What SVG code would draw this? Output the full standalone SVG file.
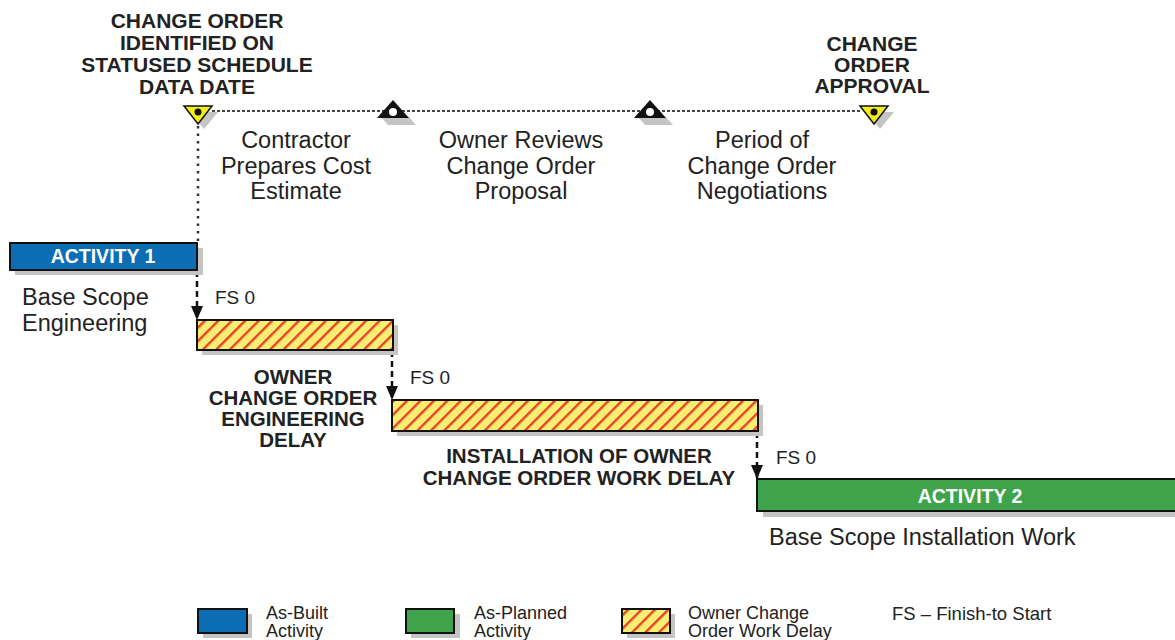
<svg xmlns="http://www.w3.org/2000/svg" width="1175" height="640" viewBox="0 0 1175 640">
<defs>
<pattern id="hatch" patternUnits="userSpaceOnUse" width="9.5" height="9.5" patternTransform="rotate(45)">
<rect width="9.5" height="9.5" fill="#f8ef72"/>
<rect x="0" y="0" width="2.4" height="9.5" fill="#e4432a"/>
</pattern>
<marker id="arr" markerWidth="14" markerHeight="12" refX="14" refY="6" orient="auto" markerUnits="userSpaceOnUse" viewBox="0 0 14 12">
<path d="M0,0 L14,6 L0,12 Z" fill="#111"/>
</marker>
<style>
text{font-family:"Liberation Sans",Arial,sans-serif;fill:#222}
.b{font-weight:bold}
.hd{font-size:21px;font-weight:bold;text-anchor:middle}
.mid{font-size:23.5px;text-anchor:middle}
.wt{fill:#fff;font-weight:bold;font-size:19.5px;text-anchor:middle}
.fs{font-size:19px}
.lg{font-size:18px}
.shadow{fill:#c4c4c4}
.bar{stroke:#111;stroke-width:2}
.dep{stroke:#111;stroke-width:2.5;stroke-dasharray:6 4;fill:none}
</style>
</defs>

<g id="labels-top">
<text class="hd" x="197" y="28">CHANGE ORDER</text>
<text class="hd" x="197" y="50">IDENTIFIED ON</text>
<text class="hd" x="197" y="72">STATUSED SCHEDULE</text>
<text class="hd" x="197" y="94">DATA DATE</text>
<text class="hd" x="872" y="51">CHANGE</text>
<text class="hd" x="872" y="72">ORDER</text>
<text class="hd" x="872" y="93">APPROVAL</text>
</g>

<g id="connectors">
<line x1="212" y1="111" x2="861" y2="111" stroke="#444" stroke-width="2" stroke-dasharray="3 2"/>
<line x1="198" y1="126" x2="198" y2="243" stroke="#333" stroke-width="2.5" stroke-dasharray="2.5 5"/>
<line class="dep" x1="197" y1="271" x2="197" y2="320" marker-end="url(#arr)"/>
<line class="dep" x1="392" y1="351" x2="392" y2="400" marker-end="url(#arr)"/>
<line class="dep" x1="757" y1="432" x2="757" y2="479" marker-end="url(#arr)"/>
</g>

<g id="milestone-co-identified">
<polygon points="190,112 218,112 204,129" class="shadow"/>
<polygon points="184,106 212,106 198,124" fill="#f3ee1a" stroke="#111" stroke-width="1.5"/>
<circle cx="198" cy="112" r="3.5" fill="#111"/>
</g>
<g id="milestone-2">
<polygon points="381,117 409,117 416,125 388,125" class="shadow"/>
<polygon points="377,118 393,100 409,118" fill="#111"/>
<circle cx="393" cy="112" r="4" fill="#fff"/>
</g>
<g id="milestone-3">
<polygon points="638,117 666,117 673,125 645,125" class="shadow"/>
<polygon points="634,118 650,100 666,118" fill="#111"/>
<circle cx="650" cy="112" r="4" fill="#fff"/>
</g>
<g id="milestone-co-approval">
<polygon points="866,112 894,112 880,129" class="shadow"/>
<polygon points="860,106 888,106 874,124" fill="#f3ee1a" stroke="#111" stroke-width="1.5"/>
<circle cx="874" cy="112" r="3.5" fill="#111"/>
</g>

<g id="period-labels">
<text class="mid" x="296" y="148">Contractor</text>
<text class="mid" x="296" y="174">Prepares Cost</text>
<text class="mid" x="296" y="199">Estimate</text>
<text class="mid" x="521" y="148">Owner Reviews</text>
<text class="mid" x="521" y="174">Change Order</text>
<text class="mid" x="521" y="199">Proposal</text>
<text class="mid" x="762" y="148">Period of</text>
<text class="mid" x="762" y="174">Change Order</text>
<text class="mid" x="762" y="199">Negotiations</text>
</g>

<g id="activity-1">
<rect x="15" y="248" width="188" height="27" class="shadow"/>
<rect x="10" y="243" width="187" height="27" fill="#0b6db4" class="bar"/>
<text class="wt" x="103" y="263">ACTIVITY 1</text>
<text x="22" y="305" style="font-size:23.5px">Base Scope</text>
<text x="22" y="331" style="font-size:23.5px">Engineering</text>
</g>
<text class="fs" x="215" y="304">FS 0</text>

<g id="co-engineering-delay">
<rect x="202" y="325" width="196" height="30" class="shadow"/>
<rect x="197" y="320" width="196" height="30" fill="url(#hatch)" class="bar"/>
<text class="b" x="293" y="384" style="font-size:20.5px;text-anchor:middle">OWNER</text>
<text class="b" x="293" y="405" style="font-size:20.5px;text-anchor:middle">CHANGE ORDER</text>
<text class="b" x="293" y="426" style="font-size:20.5px;text-anchor:middle">ENGINEERING</text>
<text class="b" x="293" y="447" style="font-size:20.5px;text-anchor:middle">DELAY</text>
</g>
<text class="fs" x="410" y="384">FS 0</text>

<g id="co-installation-delay">
<rect x="397" y="405" width="366" height="31" class="shadow"/>
<rect x="392" y="400" width="366" height="31" fill="url(#hatch)" class="bar"/>
<text class="b" x="579" y="463" style="font-size:20.5px;text-anchor:middle">INSTALLATION OF OWNER</text>
<text class="b" x="579" y="485" style="font-size:20.5px;text-anchor:middle">CHANGE ORDER WORK DELAY</text>
</g>
<text class="fs" x="776" y="464">FS 0</text>

<g id="activity-2">
<rect x="763" y="485" width="420" height="32" class="shadow"/>
<rect x="757" y="479" width="425" height="32" fill="#3fa34b" class="bar"/>
<text class="wt" x="970" y="503">ACTIVITY 2</text>
<text x="769" y="545" style="font-size:23.5px">Base Scope Installation Work</text>
</g>

<g id="legend">
<rect x="203" y="614" width="49" height="24" class="shadow"/>
<rect x="198" y="609" width="49" height="24" fill="#0b6db4" class="bar"/>
<text class="lg" x="266" y="619">As-Built</text>
<text class="lg" x="266" y="637">Activity</text>
<rect x="411" y="614" width="49" height="24" class="shadow"/>
<rect x="406" y="609" width="48" height="24" fill="#3fa34b" class="bar"/>
<text class="lg" x="474" y="619">As-Planned</text>
<text class="lg" x="474" y="637">Activity</text>
<rect x="627" y="614" width="48" height="24" class="shadow"/>
<rect x="622" y="609" width="48" height="24" fill="url(#hatch)" class="bar"/>
<text class="lg" x="688" y="619">Owner Change</text>
<text class="lg" x="688" y="637">Order Work Delay</text>
<text x="892" y="620" style="font-size:18.5px">FS – Finish-to Start</text>
</g>
</svg>
